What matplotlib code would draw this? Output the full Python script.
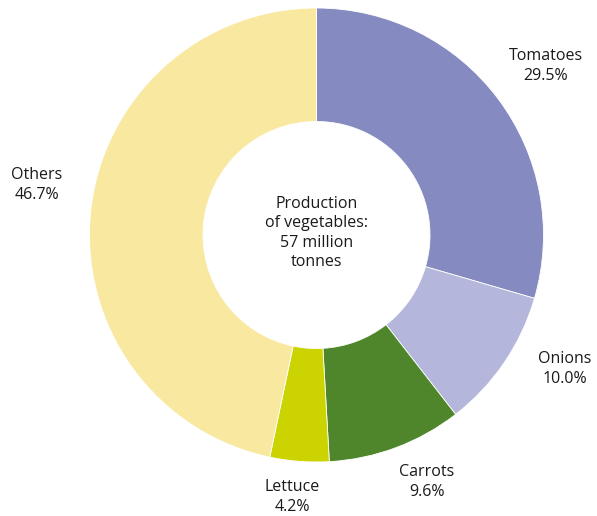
import matplotlib.pyplot as plt

plt.rcParams["font.family"] = ["Open Sans", "DejaVu Sans"]

# Vegetable production shares, clockwise from 12 o'clock
crops = ["Tomatoes", "Onions", "Carrots", "Lettuce", "Others"]
shares = [29.5, 10.0, 9.6, 4.2, 46.7]
colors = ["#858bc0", "#b4b7db", "#4f862c", "#cbd300", "#f8e8a0"]

# label anchor points (data units of the ring, radius 1)
label_pos = [(1.009, 0.744), (1.093, -0.59), (0.487, -1.088), (-0.106, -1.154), (-1.231, 0.22)]

fig = plt.figure(figsize=(5.97, 5.16), dpi=100)
ax = fig.add_axes([89.5 / 597, 54 / 516, 454 / 597, 454 / 516])

ax.pie(shares, colors=colors, startangle=90, counterclock=False, radius=1,
       wedgeprops=dict(width=0.5, edgecolor="white", linewidth=0.6))
ax.set_xlim(-1, 1)
ax.set_ylim(-1, 1)
ax.set_aspect("equal")
ax.axis("off")

for name, val, (x, y) in zip(crops, shares, label_pos):
    ax.text(x, y, f"{name}\n{val:.1f}%", ha="center", va="center",
            fontsize=11.5, color="#1a1a1a", linespacing=1.3, clip_on=False)

ax.text(0, 0.009, "Production\nof vegetables:\n57 million\ntonnes", ha="center",
        va="center", fontsize=11.5, color="#1a1a1a", linespacing=1.3)

fig.savefig("out.png", dpi=100)
